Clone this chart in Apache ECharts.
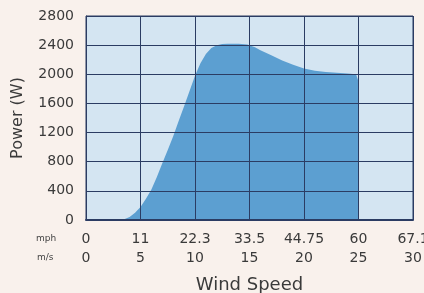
<!DOCTYPE html>
<html><head><meta charset="utf-8">
<script src="https://cdn.jsdelivr.net/npm/echarts@6/dist/echarts.min.js"></script>
<style>html,body{margin:0;padding:0;background:#f9f1ec;}#c{width:424px;height:293px;}</style>
</head><body><div id="c"></div>
<script>
// wind speed in m/s
const windSpeed = [0, 3, 3.5, 4, 4.5, 5, 5.5, 6, 6.5, 7, 7.5, 8, 8.5, 9, 9.5, 10, 10.5, 11, 11.5, 12, 12.5, 13, 14, 14.8, 15.5, 16, 17, 18, 19, 20, 21, 22, 23, 24, 24.5, 24.8, 25, 25];
// power in W
const power = [0, 0, 10, 40, 100, 180, 290, 420, 590, 780, 960, 1150, 1360, 1560, 1770, 1980, 2150, 2280, 2360, 2400, 2415, 2420, 2420, 2410, 2370, 2330, 2260, 2190, 2130, 2080, 2050, 2030, 2020, 2010, 2005, 1990, 1900, 0];
const yTicks = [0, 400, 800, 1200, 1600, 2000, 2400, 2800];
const msTicks = [0, 5, 10, 15, 20, 25, 30];
const mphLabels = ['0', '11', '22.3', '33.5', '44.75', '60', '67.1'];
const msLabels = ['0', '5', '10', '15', '20', '25', '30'];

const font = 'DejaVu Sans, sans-serif';
const chart = echarts.init(document.getElementById('c'));
const gridColor = '#2b3c63';
const textColor = '#3a3a3a';
chart.setOption({
  backgroundColor: '#f9f1ec',
  animation: false,
  grid: {left: 86, right: 11, top: 16, bottom: 73, containLabel: false, outerBoundsMode: 'none',
    show: true, backgroundColor: '#d4e5f2', borderColor: gridColor, borderWidth: 1, z: 0},
  xAxis: [{
    type: 'value', min: 0, max: 30, interval: 5, position: 'bottom', z: 5,
    axisLine: {show: true, lineStyle: {color: gridColor, width: 2}},
    axisTick: {show: false},
    splitLine: {show: true, lineStyle: {color: gridColor, width: 1}},
    axisLabel: {margin: 12, color: textColor, fontSize: 14, fontFamily: font,
      formatter: v => mphLabels[msTicks.indexOf(v)]}
  }, {
    type: 'value', min: 0, max: 30, interval: 5, position: 'bottom', offset: 19, z: 5,
    axisLine: {show: false}, axisTick: {show: false}, splitLine: {show: false},
    axisLabel: {margin: 12, color: textColor, fontSize: 14, fontFamily: font,
      formatter: v => msLabels[msTicks.indexOf(v)]},
    name: 'Wind Speed', nameLocation: 'middle', nameGap: 37,
    nameTextStyle: {color: textColor, fontSize: 18, fontFamily: font}
  }],
  yAxis: {
    type: 'value', min: 0, max: 2800, interval: 400, z: 5,
    axisLine: {show: true, lineStyle: {color: gridColor, width: 1}},
    axisTick: {show: false},
    splitLine: {show: true, lineStyle: {color: gridColor, width: 1}},
    axisLabel: {margin: 12, color: textColor, fontSize: 14, fontFamily: font,
      formatter: v => yTicks.includes(v) ? String(v) : ''},
    name: 'Power (W)', nameLocation: 'middle', nameGap: 60,
    nameTextStyle: {color: textColor, fontSize: 16, fontFamily: font}
  },
  graphic: [
    {type: 'text', left: 36, top: 234, style: {text: 'mph', fontSize: 9, fill: '#444', fontFamily: font}},
    {type: 'text', left: 37, top: 253, style: {text: 'm/s', fontSize: 9, fill: '#444', fontFamily: font}}
  ],
  series: [{
    type: 'line', xAxisIndex: 0, smooth: false, symbol: 'none',
    data: windSpeed.map((w, i) => [w, power[i]]),
    lineStyle: {width: 0},
    areaStyle: {color: '#5c9fd1', opacity: 1},
    z: 1
  }]
});
</script></body></html>
